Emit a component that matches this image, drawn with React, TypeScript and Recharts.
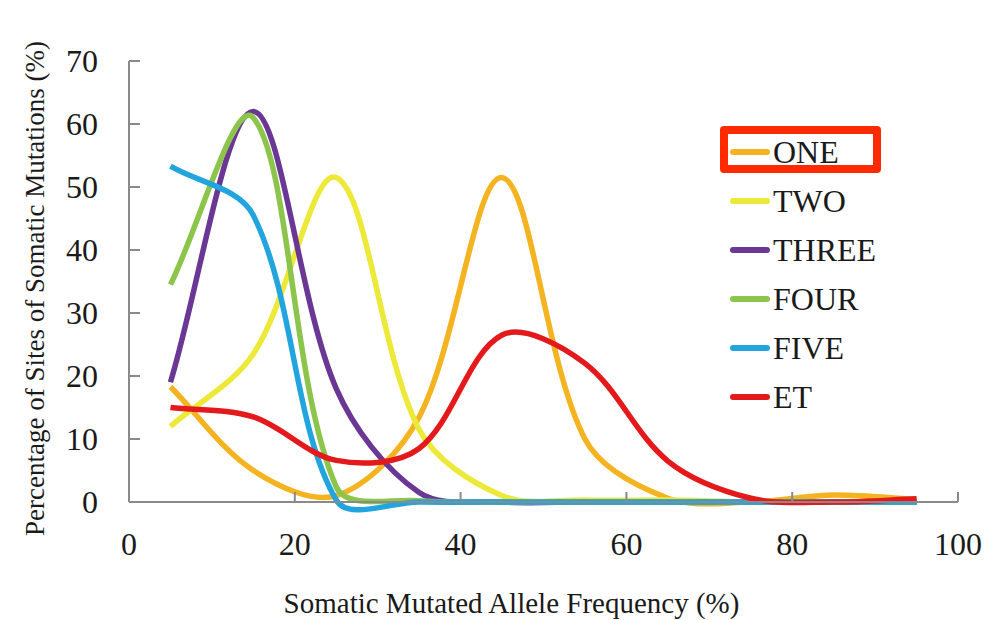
import React from "react";
import { Legend, Line, LineChart, XAxis, YAxis } from "recharts";

// allele frequency bins (%), one point per 10% bin centre
const bins = [5, 15, 25, 35, 45, 55, 65, 75, 85, 95];

const one = [18.3, 5, 1, 13.5, 51.5, 10, 0.6, 0, 1.1, 0.4];
const two = [12, 23.5, 51.5, 11.5, 1, 0.3, 0.3, 0, 0, 0];
const three = [19, 62, 18, 1.5, 0, 0, 0, 0, 0, 0];
const four = [34.5, 61, 2.4, 0.2, 0, 0, 0, 0, 0, 0];
const five = [53.3, 45.5, 0.3, 0, 0, 0, 0, 0, 0, 0];
const et = [15, 13.5, 6.6, 8.5, 26.5, 22, 6.5, 0.6, 0, 0.5];

const xTicks = [0, 20, 40, 60, 80, 100];
const yTicks = [0, 10, 20, 30, 40, 50, 60, 70];

const seriesList = [
  { key: "ONE", values: one, color: "#f4b320" },
  { key: "TWO", values: two, color: "#ece938" },
  { key: "THREE", values: three, color: "#6b3795" },
  { key: "FOUR", values: four, color: "#8cc44c" },
  { key: "FIVE", values: five, color: "#22a5de" },
  { key: "ET", values: et, color: "#e4191c" },
];

const data = bins.map((x, i) => {
  const row: Record<string, number> = { x };
  seriesList.forEach((s) => (row[s.key] = s.values[i]));
  return row;
});

const FONT = "Liberation Serif";
const AXIS = "#8a8a8a";
const GAP = 31;

// Excel-like smoothing: bezier through the points, handle length scaled by chord length
function smooth(context: any) {
  let pts: number[][] = [];
  const dist = (a: number[], b: number[]) => Math.hypot(b[0] - a[0], b[1] - a[1]);
  const tangent = (i: number) => {
    const prev = pts[i - 1] || pts[i];
    const next = pts[i + 1] || pts[i];
    const d = dist(prev, pts[i]) + dist(pts[i], next) || 1;
    return [(next[0] - prev[0]) / d, (next[1] - prev[1]) / d];
  };
  return {
    areaStart() {},
    areaEnd() {},
    lineStart() {
      pts = [];
    },
    point(x: number, y: number) {
      pts.push([+x, +y]);
    },
    lineEnd() {
      if (!pts.length) return;
      context.moveTo(pts[0][0], pts[0][1]);
      for (let i = 0; i < pts.length - 1; i++) {
        const p1 = pts[i];
        const p2 = pts[i + 1];
        const len = dist(p1, p2) / 3;
        const t1 = tangent(i);
        const t2 = tangent(i + 1);
        context.bezierCurveTo(
          p1[0] + t1[0] * len,
          p1[1] + t1[1] * len,
          p2[0] - t2[0] * len,
          p2[1] - t2[1] * len,
          p2[0],
          p2[1]
        );
      }
    },
  };
}

const XTick = ({ x, y, payload }: any) => {
  const axisY = y - GAP;
  return (
    <g>
      {payload.value !== 0 && (
        <line x1={x} x2={x} y1={axisY} y2={axisY - 10} stroke={AXIS} strokeWidth={2} />
      )}
      <text x={x} y={y} dy="0.7em" textAnchor="middle" fontFamily={FONT} fontSize={32} fill="#1a1a1a">
        {payload.value}
      </text>
    </g>
  );
};

const YTick = ({ x, y, payload }: any) => {
  const axisX = x + GAP;
  return (
    <g>
      <line x1={axisX} x2={axisX + 11} y1={y} y2={y} stroke={AXIS} strokeWidth={2} />
      <text x={x} y={y} dy="0.35em" textAnchor="end" fontFamily={FONT} fontSize={32} fill="#1a1a1a">
        {payload.value}
      </text>
    </g>
  );
};

const YTitle = (props: any) => {
  const vb = props.viewBox || { x: 0, y: 61, width: 129, height: 441 };
  const cx = vb.x + 44;
  const cy = vb.y + vb.height / 2 + 7;
  return (
    <text
      x={cx}
      y={cy}
      transform={`rotate(-90, ${cx}, ${cy})`}
      textAnchor="middle"
      fontFamily={FONT}
      fontSize={27}
      fill="#1a1a1a"
    >
      Percentage of Sites of Somatic Mutations (%)
    </text>
  );
};

const XTitle = (props: any) => {
  const vb = props.viewBox || { x: 129, y: 502, width: 829, height: 118 };
  return (
    <text
      x={vb.x + vb.width / 2 - 32}
      y={vb.y + 111}
      textAnchor="middle"
      fontFamily={FONT}
      fontSize={29}
      fill="#1a1a1a"
    >
      Somatic Mutated Allele Frequency (%)
    </text>
  );
};

const LegendBox = () => (
  <div style={{ position: "relative", fontFamily: FONT, fontSize: 32, color: "#1a1a1a" }}>
    <div
      style={{
        position: "absolute",
        left: 0,
        top: -1,
        width: 161,
        height: 47,
        boxSizing: "border-box",
        border: "8px solid #ff2a00",
        borderRadius: 4,
      }}
    />
    {seriesList.map((s) => (
      <div key={s.key} style={{ display: "flex", alignItems: "center", height: 49 }}>
        <span
          style={{
            display: "inline-block",
            marginLeft: 10,
            width: 40,
            height: 6,
            borderRadius: 3,
            background: s.color,
          }}
        />
        <span style={{ marginLeft: 3, lineHeight: 1 }}>{s.key}</span>
      </div>
    ))}
  </div>
);

export default function App() {
  return (
    <div style={{ position: "absolute", left: 0, top: 0, background: "#fff" }}>
      <LineChart width={990} height={620} data={data} margin={{ top: 61, right: 32, bottom: 0, left: 0 }}>
        <XAxis
          dataKey="x"
          type="number"
          domain={[0, 100]}
          ticks={xTicks}
          height={118}
          stroke={AXIS}
          strokeWidth={2}
          tickSize={0}
          tickMargin={GAP}
          tick={<XTick />}
          label={XTitle}
        />
        <YAxis
          type="number"
          domain={[0, 70]}
          ticks={yTicks}
          width={129}
          stroke={AXIS}
          strokeWidth={2}
          tickSize={0}
          tickMargin={GAP}
          tick={<YTick />}
          label={YTitle}
        />
        <Legend
          layout="vertical"
          align="center"
          verticalAlign="middle"
          content={<LegendBox />}
          wrapperStyle={{ left: 720, top: 127, width: 200 }}
        />
        {seriesList.map((s) => (
          <Line
            key={s.key}
            dataKey={s.key}
            type={smooth as any}
            stroke={s.color}
            strokeWidth={5.5}
            dot={false}
            activeDot={false}
            isAnimationActive={false}
          />
        ))}
      </LineChart>
    </div>
  );
}
